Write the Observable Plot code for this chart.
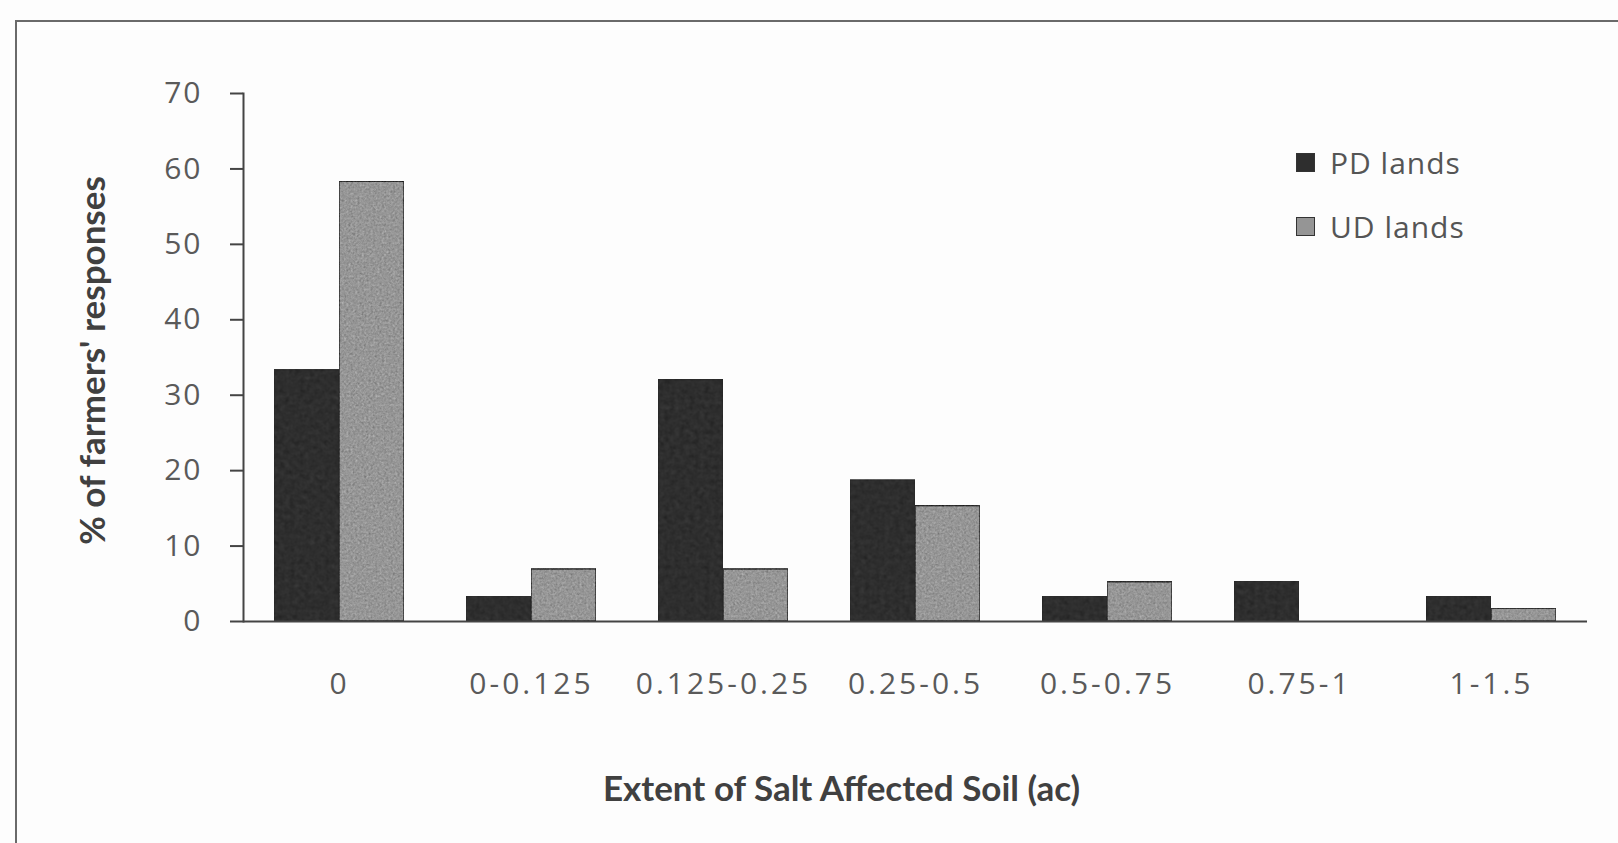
<!DOCTYPE html>
<html><head><meta charset="utf-8">
<script src="https://cdn.jsdelivr.net/npm/d3@7"></script>
<script src="https://cdn.jsdelivr.net/npm/@observablehq/plot@0.6"></script>
<style>
html,body{margin:0;padding:0;background:#fdfdfd;}
#wrap{position:relative;width:1618px;height:843px;overflow:hidden;background:#fdfdfd;}
#border{position:absolute;left:15px;top:20px;width:1700px;height:900px;border-left:2px solid #6a6a6a;border-top:2px solid #6a6a6a;box-sizing:border-box;}
#chart{position:absolute;left:0;top:0;}
#legend{position:absolute;left:1296px;top:130px;font-family:"Open Sans";font-size:30px;color:#555;letter-spacing:1px;}
.item{display:flex;align-items:center;height:64px;}
.sw{width:19px;height:19px;margin-right:15px;border:1px solid #333;box-sizing:border-box;}
#chart g[aria-label="x-axis tick label"] text{letter-spacing:3px;}
#chart g[aria-label="y-axis tick label"] text{letter-spacing:2px;}
</style>
</head><body>
<svg width="0" height="0" style="position:absolute">
  <defs>
    <filter id="grainStrong" x="0" y="0" width="100%" height="100%" color-interpolation-filters="sRGB">
      <feTurbulence type="fractalNoise" baseFrequency="0.45" numOctaves="2" seed="7" result="noise"/>
      <feColorMatrix in="noise" type="matrix" values="0.33 0.33 0.33 0 0  0.33 0.33 0.33 0 0  0.33 0.33 0.33 0 0  0 0 0 0 1" result="gray"/>
      <feComposite in="SourceGraphic" in2="gray" operator="arithmetic" k1="0" k2="1" k3="0.45" k4="-0.22" result="mix"/>
      <feComposite in="mix" in2="SourceAlpha" operator="in"/>
    </filter>
    <filter id="grainSoft" x="0" y="0" width="100%" height="100%" color-interpolation-filters="sRGB">
      <feTurbulence type="fractalNoise" baseFrequency="0.2" numOctaves="2" seed="3" result="noise"/>
      <feColorMatrix in="noise" type="matrix" values="0.33 0.33 0.33 0 0  0.33 0.33 0.33 0 0  0.33 0.33 0.33 0 0  0 0 0 0 1" result="gray"/>
      <feComposite in="SourceGraphic" in2="gray" operator="arithmetic" k1="0" k2="1" k3="0.15" k4="-0.075" result="mix"/>
      <feComposite in="mix" in2="SourceAlpha" operator="in"/>
    </filter>
  </defs>
</svg>
<div id="wrap"><div id="border"></div><div id="chart"></div><div id="legend"></div></div>
<script>
const categories = ["0","0-0.125","0.125-0.25","0.25-0.5","0.5-0.75","0.75-1","1-1.5"];
const series = ["PD lands","UD lands"];
const pdValues = [33.3,3.3,32.0,18.7,3.3,5.3,3.3];
const udValues = [58.3,6.9,6.9,15.3,5.2,0,1.7];
const yTicks = [0,10,20,30,40,50,60,70];
const colors = ["#2e2e2e","#959595"];
const xTitle = "Extent of Salt Affected Soil (ac)";
const yTitle = "% of farmers' responses";

const rows = categories.flatMap((c,i)=>[
  {cat:c, series:series[0], value:pdValues[i]},
  {cat:c, series:series[1], value:udValues[i]}
]);

const chart = Plot.plot({
  width:1618, height:843,
  marginLeft:243, marginRight:31, marginTop:93, marginBottom:222,
  style:{fontFamily:"Open Sans", fontSize:"30px", color:"#5a5a5a", background:"transparent", overflow:"visible"},
  x:{domain:categories, padding:0, label:null},
  y:{domain:[0,70], label:null},
  color:{domain:series, range:colors},
  marks:[
    Plot.barY(rows.filter(d=>d.series===series[0]), {x:"cat", y:"value", fill:"series", stroke:"#2a2a2a", strokeWidth:1.5, insetLeft:31, insetRight:96}),
    Plot.barY(rows.filter(d=>d.series===series[1]), {x:"cat", y:"value", fill:"series", stroke:"#2a2a2a", strokeWidth:1.5, insetLeft:96, insetRight:31}),
    Plot.axisY({ticks:yTicks, tickSize:13, tickPadding:28, stroke:"#444", strokeWidth:2, label:null, fill:"#5a5a5a"}),
    Plot.axisX({tickSize:0, tickPadding:51, label:null, fill:"#5a5a5a"}),
    Plot.frame({anchor:"left", stroke:"#444", strokeWidth:2}),
    Plot.ruleY([0], {stroke:"#444", strokeWidth:2}),
    Plot.text([yTitle], {text:d=>d, frameAnchor:"left", textAnchor:"middle", lineAnchor:"middle", rotate:-90, dx:-150, dy:3, fontWeight:"bold", fontSize:35, fill:"#404040", fontFamily:"Lato"}),
    Plot.text([xTitle], {text:d=>d, frameAnchor:"bottom", textAnchor:"middle", lineAnchor:"middle", dx:-74, dy:168, fontWeight:"bold", fontSize:35, fill:"#404040", fontFamily:"Lato"})
  ]
});
document.getElementById("chart").appendChild(chart);

// subtle print-like grain on the bars
const barGroups = chart.querySelectorAll('g[aria-label="bar"]');
if (barGroups[0]) barGroups[0].querySelectorAll("rect").forEach(r=>r.setAttribute("filter","url(#grainSoft)"));
if (barGroups[1]) barGroups[1].querySelectorAll("rect").forEach(r=>r.setAttribute("filter","url(#grainStrong)"));

const legend = document.getElementById("legend");
series.forEach((s,i)=>{
  const item = document.createElement("div"); item.className="item";
  const sw = document.createElement("div"); sw.className="sw"; sw.style.background=colors[i];
  const lab = document.createElement("span"); lab.textContent=s;
  item.appendChild(sw); item.appendChild(lab); legend.appendChild(item);
});
</script>
</body></html>
